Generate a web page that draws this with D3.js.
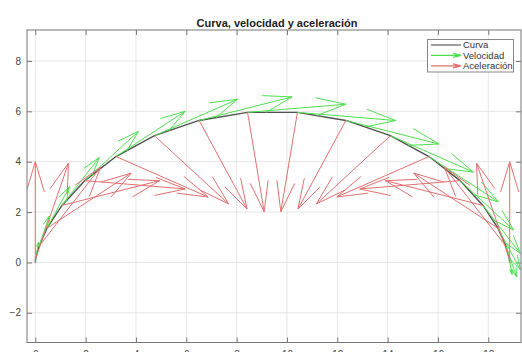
<!DOCTYPE html>
<html>
<head>
<meta charset="utf-8">
<script src="https://cdn.jsdelivr.net/npm/d3@7"></script>
<style>
  html, body { margin: 0; padding: 0; background: #fff; }
  svg { display: block; font-family: "Liberation Sans", Arial, Helvetica, sans-serif; }
</style>
</head>
<body>
<svg id="chart" width="522" height="352"></svg>
<script>
// Sample points along the curve (20 samples)
const pointX = [0, 0.018, 0.142, 0.465, 1.060, 1.971, 3.205, 4.737, 6.509, 8.435,
                10.415, 12.341, 14.112, 15.644, 16.879, 17.789, 18.385, 18.708, 18.832, 18.850];
const pointY = [0, 0.163, 0.633, 1.359, 2.264, 3.248, 4.205, 5.032, 5.638, 5.959,
                5.959, 5.638, 5.032, 4.205, 3.248, 2.264, 1.359, 0.633, 0.163, 0];

// Velocity components at each sample
const velX = [0, 0.163, 0.633, 1.359, 2.264, 3.248, 4.205, 5.032, 5.638, 5.959,
              5.959, 5.638, 5.032, 4.205, 3.248, 2.264, 1.359, 0.633, 0.163, 0];
const velY = [0, 0.974, 1.843, 2.511, 2.908, 2.990, 2.747, 2.207, 1.428, 0.494,
              -0.494, -1.428, -2.207, -2.747, -2.990, -2.908, -2.511, -1.843, -0.974, 0];

// Acceleration components at each sample
const accX = [0, 0.974, 1.843, 2.511, 2.908, 2.990, 2.747, 2.207, 1.428, 0.494,
              -0.494, -1.428, -2.207, -2.747, -2.990, -2.908, -2.511, -1.843, -0.974, 0];
const accY = [3, 2.837, 2.367, 1.641, 0.736, -0.248, -1.205, -2.032, -2.638, -2.959,
              -2.959, -2.638, -2.032, -1.205, -0.248, 0.736, 1.641, 2.367, 2.837, 3];

// Tick values and text
const xTicks = [0, 2, 4, 6, 8, 10, 12, 14, 16, 18];
const yTicks = [-2, 0, 2, 4, 6, 8];
const titleText = "Curva, velocidad y aceleración";
const legendLabels = ["Curva", "Velocidad", "Aceleración"];

// Arrow length scaling for each quiver set
const velScale = 0.655;
const accScale = 4 / 3;

const colors = { curve: "#505050", vel: "#4ee04e", acc: "#e27070" };

const svg = d3.select("#chart");
const plotLeft = 27, plotRight = 521, plotTop = 30, plotBottom = 342.5;

const x = d3.scaleLinear().domain([-0.33, 19.3]).range([plotLeft, plotRight]);
const y = d3.scaleLinear().domain([-3.18, 9.23]).range([plotBottom, plotTop]);

// Grid
const grid = svg.append("g").attr("stroke", "#e6e6e6").attr("stroke-width", 1);
grid.selectAll("line.gx").data(xTicks).join("line").attr("class", "gx")
  .attr("x1", d => x(d)).attr("x2", d => x(d)).attr("y1", plotTop).attr("y2", plotBottom);
grid.selectAll("line.gy").data(yTicks).join("line").attr("class", "gy")
  .attr("y1", d => y(d)).attr("y2", d => y(d)).attr("x1", plotLeft).attr("x2", plotRight);

// Axes with inward ticks on all four sides
function styleAxis(g) {
  g.select(".domain").remove();
  g.selectAll(".tick line").attr("stroke", "#777");
  g.selectAll(".tick text").attr("fill", "#444").attr("font-size", 10)
    .attr("font-family", "'Liberation Sans', Arial, sans-serif");
}
svg.append("g").attr("transform", `translate(0,${plotBottom})`)
  .call(d3.axisBottom(x).tickValues(xTicks).tickSize(-5).tickPadding(8).tickFormat(d3.format("d")))
  .call(styleAxis);
svg.append("g").attr("transform", `translate(0,${plotTop})`)
  .call(d3.axisTop(x).tickValues(xTicks).tickSize(-5).tickFormat(""))
  .call(styleAxis);
svg.append("g").attr("transform", `translate(${plotLeft},0)`)
  .call(d3.axisLeft(y).tickValues(yTicks).tickSize(-5).tickPadding(6).tickFormat(d3.format("d")))
  .call(styleAxis);
svg.append("g").attr("transform", `translate(${plotRight},0)`)
  .call(d3.axisRight(y).tickValues(yTicks).tickSize(-5).tickFormat(""))
  .call(styleAxis);

svg.append("defs").append("clipPath").attr("id", "plot-clip")
  .append("rect").attr("x", plotLeft).attr("y", plotTop)
  .attr("width", plotRight - plotLeft).attr("height", plotBottom - plotTop);

const plot = svg.append("g").attr("clip-path", "url(#plot-clip)");

// Curve through the samples
const line = d3.line().x((d, i) => x(pointX[i])).y((d, i) => y(pointY[i]));
plot.append("path").datum(pointX).attr("d", line)
  .attr("fill", "none").attr("stroke", colors.curve).attr("stroke-width", 1.4);

// Quiver arrows: shaft plus two head strokes
function arrowPath(x0, y0, x1, y1) {
  const dx = x1 - x0, dy = y1 - y0;
  if (Math.hypot(dx, dy) < 1e-6) return null;
  const back = 0.3, side = 0.09;
  const bx = x1 - back * dx, by = y1 - back * dy;
  const px = -dy * side, py = dx * side;
  return `M${x0},${y0}L${x1},${y1}M${bx + px},${by + py}L${x1},${y1}L${bx - px},${by - py}`;
}
function quiver(u, v, s, color) {
  const g = plot.append("g").attr("fill", "none").attr("stroke", color).attr("stroke-width", 1);
  pointX.forEach((px, i) => {
    const d = arrowPath(x(px), y(pointY[i]), x(px + u[i] * s), y(pointY[i] + v[i] * s));
    if (d) g.append("path").attr("d", d);
  });
}
quiver(velX, velY, velScale, colors.vel);
quiver(accX, accY, accScale, colors.acc);

// Axes box
svg.append("rect").attr("x", plotLeft).attr("y", plotTop)
  .attr("width", plotRight - plotLeft).attr("height", plotBottom - plotTop)
  .attr("fill", "none").attr("stroke", "#777").attr("stroke-width", 1);

// Title
svg.append("text").attr("x", 277).attr("y", 27).attr("text-anchor", "middle")
  .attr("font-size", 11).attr("font-weight", "bold").attr("fill", "#222").text(titleText);

// Legend
const lg = svg.append("g");
lg.append("rect").attr("x", 427.5).attr("y", 39.5).attr("width", 86).attr("height", 32.5)
  .attr("fill", "#fff").attr("stroke", "#888").attr("stroke-width", 1);
const legendColors = [colors.curve, colors.vel, colors.acc];
legendLabels.forEach((lab, i) => {
  const cy = 45 + i * 10.4;
  if (i === 0) {
    lg.append("line").attr("x1", 431).attr("x2", 461).attr("y1", cy).attr("y2", cy)
      .attr("stroke", "#777").attr("stroke-width", 1.4);
  } else {
    lg.append("path").attr("d", `M431,${cy}L461,${cy}M453,${cy - 2}L461,${cy}L453,${cy + 2}`)
      .attr("fill", "none").attr("stroke", legendColors[i]).attr("stroke-width", 1.2);
  }
  lg.append("text").attr("x", 463).attr("y", cy).attr("dy", "0.35em")
    .attr("font-size", 9.5).attr("fill", "#333").text(lab);
});
</script>
</body>
</html>
